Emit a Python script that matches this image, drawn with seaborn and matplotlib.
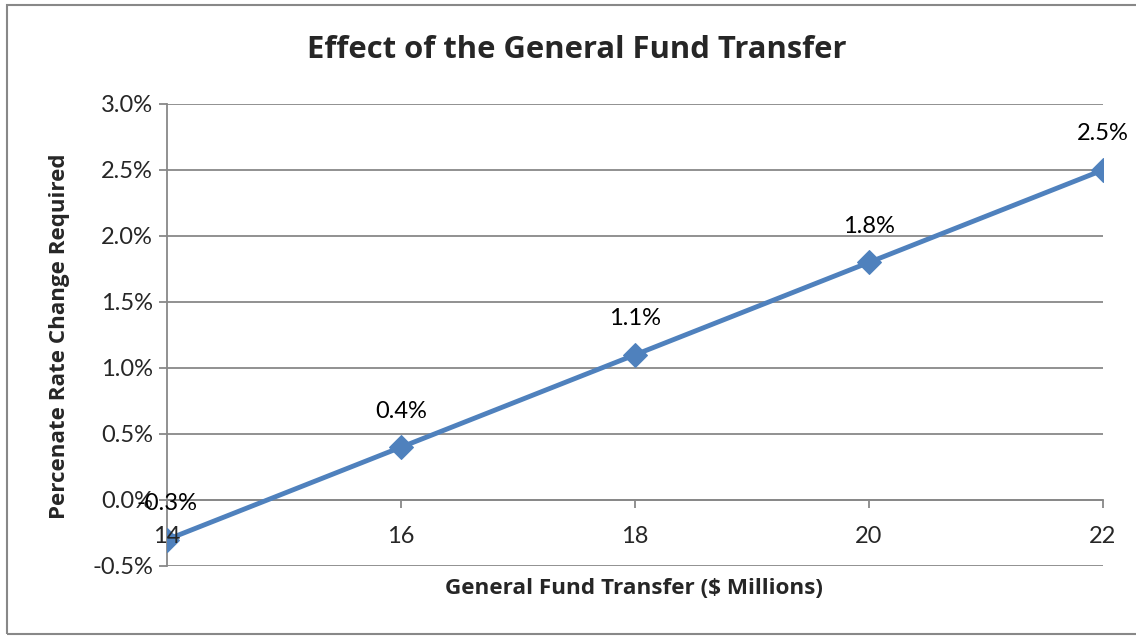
import matplotlib
matplotlib.use("Agg")
import matplotlib.pyplot as plt
import seaborn as sns
import pandas as pd
from matplotlib.patches import Rectangle
from matplotlib.ticker import FuncFormatter

transfer = [14, 16, 18, 20, 22]
rate_change = [-0.3, 0.4, 1.1, 1.8, 2.5]
y_ticks = [-0.5, 0.0, 0.5, 1.0, 1.5, 2.0, 2.5, 3.0]
x_ticks = [14, 16, 18, 20, 22]

title = "Effect of the General Fund Transfer"
x_label = "General Fund Transfer ($ Millions)"
y_label = "Percenate Rate Change Required"

sns.set_theme(style="white")
plt.rcParams['font.family'] = ['Lato', 'DejaVu Sans']

df = pd.DataFrame({"x": transfer, "y": rate_change})

fig = plt.figure(figsize=(11.36, 6.37), dpi=100)
ax = fig.add_axes([167/1136, 1-566/637, (1103-167)/1136, (566-104)/637])

line_color = "#4F81BD"
grid_color = "#888888"

for yv in y_ticks:
    ax.axhline(yv, color=grid_color, lw=1.3, zorder=0)

sns.lineplot(data=df, x="x", y="y", ax=ax, color=line_color, lw=3.5,
             marker="D", markersize=12, markeredgecolor=line_color, zorder=2)

for xv, yv in zip(transfer, rate_change):
    ax.annotate(f"{yv:.1f}%", (xv, yv), xytext=(0, 26), textcoords="offset points",
                ha="center", va="center", fontsize=17, color="black", zorder=4)

ax.set_xlim(14, 22)
ax.set_ylim(-0.5, 3.0)
ax.set_xticks(x_ticks)
ax.set_yticks(y_ticks)
ax.yaxis.set_major_formatter(FuncFormatter(lambda v, p: f"{v:.1f}%"))
ax.set_axisbelow(False)

for s in ["top", "right"]:
    ax.spines[s].set_visible(False)
ax.spines["bottom"].set_position(("data", 0))
ax.spines["bottom"].set_color(grid_color)
ax.spines["bottom"].set_linewidth(1.3)
ax.spines["left"].set_color(grid_color)
ax.spines["left"].set_linewidth(1.3)
for sp in ax.spines.values():
    sp.set_zorder(0.5)

ax.tick_params(axis="x", direction="out", length=6, width=1.3, color=grid_color,
               labelsize=17, pad=13, bottom=True)
ax.tick_params(axis="y", direction="out", length=6, width=1.3, color=grid_color,
               labelsize=17, pad=4, left=True)

ax.set_xlabel("")
ax.set_ylabel("")
bold_family = ['Open Sans', 'DejaVu Sans']
fig.text(577/1136, 1-50/637, title, ha="center", va="center", fontsize=22.3,
         fontweight="bold", family=bold_family)
fig.text(634/1136, 1-588/637, x_label, ha="center", va="center", fontsize=16.2,
         fontweight="bold", family=bold_family)
fig.text(60/1136, 1-336/637, y_label, ha="center", va="center", rotation=90, fontsize=16.1,
         fontweight="bold", family=bold_family)

fig.patches.append(Rectangle((7/1136, 1-634/637), 1.2, (634-5)/637, transform=fig.transFigure,
                             fill=False, edgecolor="#888888", lw=1.5))

fig.savefig("out.png", dpi=100)
